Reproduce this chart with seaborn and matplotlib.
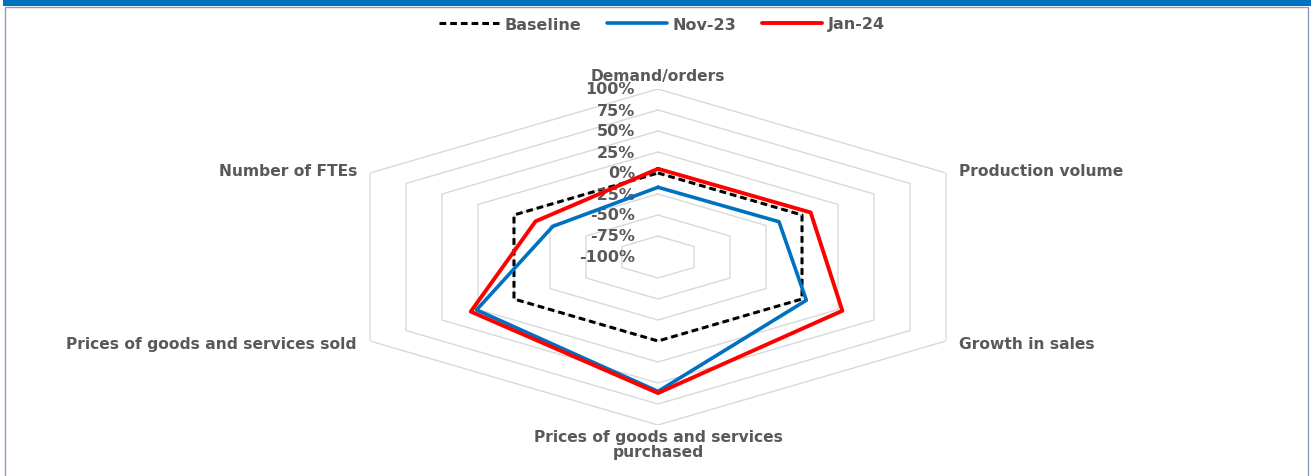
import numpy as np
import pandas as pd
import matplotlib
matplotlib.use("Agg")
import matplotlib.pyplot as plt
from matplotlib.patches import Rectangle
import seaborn as sns

# Survey indicators, clockwise from the top
categories = [
    "Demand/orders",
    "Production volume",
    "Growth in sales",
    "Prices of goods and services\npurchased",
    "Prices of goods and services sold",
    "Number of FTEs",
]
series_names = ["Baseline", "Nov-23", "Jan-24"]
baseline = [0, 0, 0, 0, 0, 0]
nov23 = [-17, -16, 3, 60, 26, -27]
jan24 = [5, 6, 28, 62, 30, -15]

ring_levels = [-75, -50, -25, 0, 25, 50, 75, 100]
tick_levels = [100, 75, 50, 25, 0, -25, -50, -75, -100]
tick_labels = ["100%", "75%", "50%", "25%", "0%", "-25%", "-50%", "-75%", "-100%"]

colors = {"Baseline": "black", "Nov-23": "#0070C0", "Jan-24": "#FF0000"}
line_styles = {"Baseline": (0, (2.2, 1.3)), "Nov-23": "-", "Jan-24": "-"}
line_widths = {"Baseline": 2.2, "Nov-23": 2.6, "Jan-24": 2.8}
text_color = "#595959"

sns.set_theme(style="white")
plt.rcParams["font.family"] = ["DejaVu Sans"]

W, H = 1311, 477
fig = plt.figure(figsize=(W / 100, H / 100), dpi=100)
fig.patch.set_facecolor("white")

# radar area: centre (658, 258) px, horizontal radius 332.6 px, vertical radius 168 px
cx, cy, rx, ry = 658, 258, 332.6, 168
ax = fig.add_axes([(cx - rx) / W, (H - cy - ry) / H, 2 * rx / W, 2 * ry / H],
                  projection="polar")
ax.set_aspect("auto")
ax.set_theta_zero_location("N")
ax.set_theta_direction(-1)
ax.set_ylim(-100, 100)
ax.grid(False)
ax.spines["polar"].set_visible(False)
ax.set_xticks([])
ax.set_yticks([])
ax.patch.set_alpha(0)

theta = np.linspace(0, 2 * np.pi, len(categories), endpoint=False)
theta_closed = np.append(theta, theta[0])

# hexagonal gridlines
for lvl in ring_levels:
    ax.plot(theta_closed, [lvl] * len(theta_closed), color="#D9D9D9", lw=1.0, zorder=1)

# series lines
values = {"Baseline": baseline, "Nov-23": nov23, "Jan-24": jan24}
rows = []
for name in series_names:
    vals = values[name]
    for i, t in enumerate(theta_closed):
        rows.append({"series": name, "step": i, "theta": t, "value": vals[i % len(vals)]})
df = pd.DataFrame(rows)

for z, name in enumerate(series_names):
    sub = df[df["series"] == name]
    sns.lineplot(data=sub, x="theta", y="value", ax=ax, sort=False, estimator=None,
                 color=colors[name], lw=line_widths[name], linestyle=line_styles[name],
                 label=name, legend=False, zorder=3 + z)
ax.set_xlabel("")
ax.set_ylabel("")

# radial tick labels next to the top spoke
for lvl, lbl in zip(tick_levels, tick_labels):
    ax.annotate(lbl, xy=(0, lvl), xytext=(-23, 0), textcoords="offset pixels",
                ha="right", va="center", fontsize=11.5, fontweight="bold",
                color=text_color, annotation_clip=False)

# category labels around the outer ring
label_offsets = [
    ((0, 14), "center", "center"),
    ((13, 3), "left", "center"),
    ((13, -3), "left", "center"),
    ((0, -19), "center", "center"),
    ((-13, -3), "right", "center"),
    ((-13, 3), "right", "center"),
]
for t, cat, (off, ha, va) in zip(theta, categories, label_offsets):
    ax.annotate(cat, xy=(t, 100), xytext=off, textcoords="offset pixels",
                ha=ha, va=va, fontsize=11.2, fontweight="bold", color=text_color,
                linespacing=0.95, annotation_clip=False)

handles = [l for l in ax.get_lines() if l.get_label() in series_names]
fig.legend(handles=handles, labels=series_names, loc="center",
           bbox_to_anchor=(662 / W, 1 - 25 / H), ncol=3, frameon=False,
           handlelength=3.75, columnspacing=1.6, handletextpad=0.35,
           prop={"weight": "bold", "size": 11.5}, labelcolor=text_color)

# frame and header bar
fig.add_artist(Rectangle((5 / W, -0.05), (1308 - 5) / W, 1.05 - 8 / H,
                         transform=fig.transFigure, fill=False,
                         edgecolor="#8E9BC0", lw=1.0))
fig.add_artist(Rectangle((3 / W, 1 - 7 / H), 1, 7 / H, transform=fig.transFigure,
                         facecolor="#0070C0", edgecolor="none"))

fig.savefig("out.png", dpi=100)
